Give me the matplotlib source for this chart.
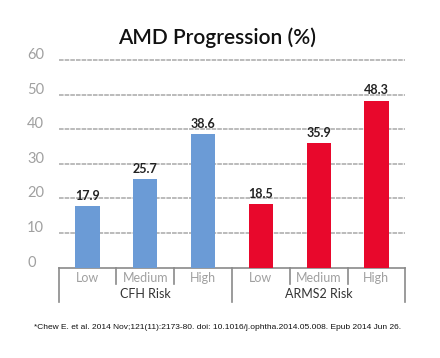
import matplotlib
matplotlib.use('Agg')
import matplotlib.pyplot as plt
import numpy as np

# Values
categories = ['Low', 'Medium', 'High', 'Low', 'Medium', 'High']
groups = ['CFH Risk', 'ARMS2 Risk']
group_sizes = [3, 3]
values = [17.9, 25.7, 38.6, 18.5, 35.9, 48.3]
yticks = [0, 10, 20, 30, 40, 50, 60]
footnote = ('*Chew E. et al. 2014 Nov;121(11):2173-80. doi: '
            '10.1016/j.ophtha.2014.05.008. Epub 2014 Jun 26.')

blue = '#6b9bd6'
red = '#e8082c'
colors = [blue] * group_sizes[0] + [red] * group_sizes[1]

plt.rcParams['font.family'] = ['Lato', 'DejaVu Sans']

fig = plt.figure(figsize=(4.4, 3.58), dpi=100)
ax = fig.add_axes([0.1334, 0.2522, 0.7877, 0.5802])

x = np.arange(len(values))
ax.bar(x, values, width=0.42, color=colors, zorder=3)

for xi, v in zip(x, values):
    ax.annotate(f'{v}', (xi, v), xytext=(0, 3), textcoords='offset points',
                ha='center', va='bottom', fontsize=9, fontweight='bold',
                color='#222222')

ax.set_xlim(-0.5, len(values) - 0.5)
ax.set_ylim(0, 60)

# dashed gridlines (60 included, not clipped)
for t in yticks[1:]:
    ax.axhline(t, color='#a8a8a8', lw=1.1, ls=(0, (3, 0.7)), zorder=1,
               clip_on=False)
for t in yticks:
    ax.text(-0.091, t + 0.3, str(t), transform=ax.get_yaxis_transform(),
            ha='left', va='baseline', fontsize=10.5, color='#a0a0a0')

for s in ['top', 'right', 'left']:
    ax.spines[s].set_visible(False)
ax.spines['bottom'].set_color('#8a8a8a')
ax.spines['bottom'].set_linewidth(1.2)
ax.set_xticks([])
ax.set_yticks([])

# category separators and labels
trans = ax.get_xaxis_transform()
bounds = np.arange(len(values) + 1) - 0.5
group_edges = np.concatenate([[0], np.cumsum(group_sizes)]) - 0.5
for b in bounds:
    low = -0.164 if b in group_edges else -0.079
    ax.plot([b, b], [0, low], transform=trans, color='#8a8a8a', lw=1.2,
            clip_on=False)
for xi, c in zip(x, categories):
    ax.text(xi, -0.048, c, transform=trans, ha='center', va='center',
            fontsize=9, color='#a0a0a0')
for i, g in enumerate(groups):
    mid = (group_edges[i] + group_edges[i + 1]) / 2
    ax.text(mid, -0.128, g, transform=trans, ha='center', va='center',
            fontsize=9, color='#333333')

fig.text(0.494, 0.896, 'AMD Progression (%)', ha='center', va='center',
         fontsize=15, fontweight='semibold', color='#111111')
fig.text(0.494, 0.084, footnote, ha='center', va='center', fontsize=6.0,
         family=['Liberation Sans', 'DejaVu Sans'], color='#111111')

fig.savefig('out.png', dpi=100)
